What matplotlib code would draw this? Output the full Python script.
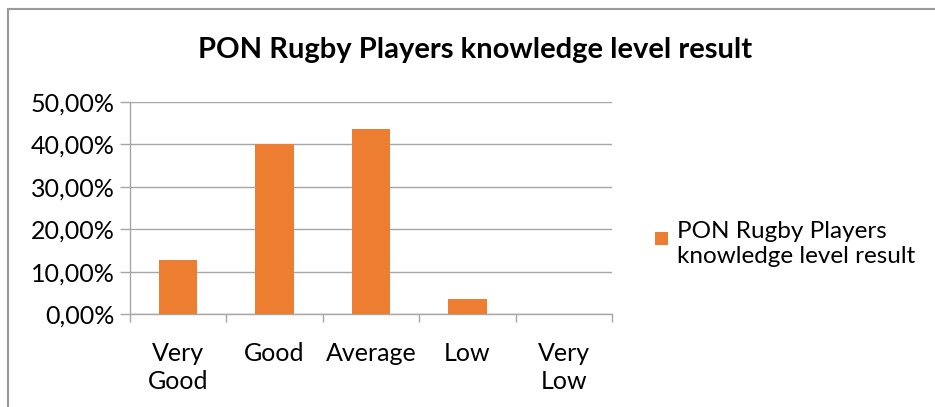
import matplotlib
matplotlib.use("Agg")
import matplotlib.pyplot as plt
from matplotlib.patches import Rectangle
from matplotlib.container import BarContainer
from matplotlib.legend_handler import HandlerPatch, update_from_first_child
from matplotlib.ticker import FuncFormatter, MultipleLocator

categories = ["Very\nGood", "Good", "Average", "Low", "Very\nLow"]
values = [12.73, 40.00, 43.64, 3.64, 0.0]
series_name = "PON Rugby Players\nknowledge level result"
title = "PON Rugby Players knowledge level result"

plt.rcParams['font.family'] = ['Lato', 'DejaVu Sans']
FS = 18
LFS = 17.5

W, H = 935, 407
fig = plt.figure(figsize=(W/100, H/100), dpi=100)

# chart border
fig.patches.append(Rectangle((7.5/W, -0.1), 2.0, 1.1 - 9.5/H, transform=fig.transFigure,
                             fill=False, edgecolor='#9a9a9a', linewidth=1.5))

ax = fig.add_axes([130/W, 1-314/H, (612-130)/W, (314-102)/H])
x = range(len(categories))
ax.bar(x, values, width=0.4, color='#ED7D31', label=series_name, zorder=3)
ax.set_xlim(-0.5, len(categories)-0.5)
ax.set_ylim(0, 50)
ax.yaxis.set_major_locator(MultipleLocator(10))
ax.yaxis.set_major_formatter(FuncFormatter(lambda v, p: f"{v:.2f}".replace('.', ',') + "%"))
ax.grid(axis='y', color='#a6a6a6', linewidth=1, zorder=0)
for s in ['top', 'right']:
    ax.spines[s].set_visible(False)
for s in ['left', 'bottom']:
    ax.spines[s].set_color('#a6a6a6')
    ax.spines[s].set_linewidth(1)
ax.set_xticks([i - 0.5 for i in range(len(categories)+1)])
ax.set_xticklabels([])
ax.set_xticks(list(x), minor=True)
ax.set_xticklabels(categories, minor=True, fontsize=FS, linespacing=1.25, va='top')
ax.tick_params(axis='x', which='major', length=6, color='#a6a6a6', width=1)
ax.tick_params(axis='x', which='minor', length=0, pad=20)
ax.tick_params(axis='y', length=7, color='#a6a6a6', width=1, labelsize=FS, pad=4)

fig.text(475/W, 1-50/H, title, ha='center', va='center', fontsize=21, fontweight='bold')


def top_square(legend, orig_handle, xdescent, ydescent, width, height, fontsize):
    side = 0.55 * fontsize
    return Rectangle((-xdescent, -ydescent + height - side - 0.3 * fontsize), side, side)


leg = ax.legend(loc='center left', bbox_to_anchor=(645/W, 1-244/H), bbox_transform=fig.transFigure,
                frameon=False, fontsize=LFS, handlelength=0.55, handleheight=2.2,
                handletextpad=0.35, borderaxespad=0,
                handler_map={BarContainer: HandlerPatch(patch_func=top_square,
                                                        update_func=update_from_first_child)})
for t in leg.get_texts():
    t.set_linespacing(1.25)
fig.savefig("out.png", dpi=100)
